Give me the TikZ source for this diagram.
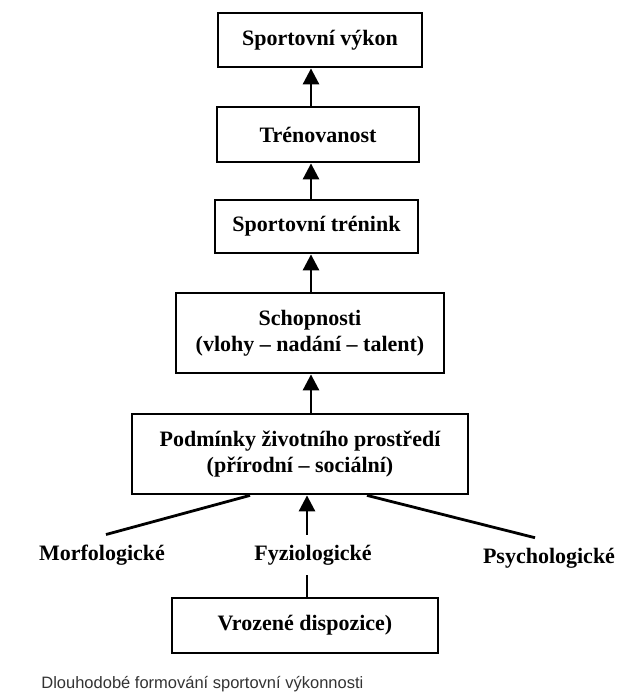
\documentclass[tikz,border=0pt]{standalone}
\usepackage{fontspec}
\setmainfont{Liberation Serif}
\setsansfont{Liberation Sans}
\usetikzlibrary{arrows.meta}

\begin{document}
\begin{tikzpicture}[x=1pt, y=-1pt, line width=2.8pt,
  box/.style={draw, inner sep=0pt, align=center, font=\fontsize{22}{26}\selectfont\bfseries},
  lbl/.style={inner sep=0pt, outer sep=10pt, font=\fontsize{22}{26}\selectfont\bfseries},
  arr/.style={-{Triangle[length=16pt,width=16pt]}}]

\useasboundingbox (0,0) rectangle (618,693);

\node[box, minimum width=204pt, minimum height=54pt] (vykon) at (320,40) {Sportovní výkon};
\node[box, minimum width=202pt, minimum height=55pt] (trenovanost) at (318,134.5) {Trénovanost};
\node[box, minimum width=203pt, minimum height=53pt] (trenink) at (316.5,226.5) {Sportovní trénink};
\node[box, minimum width=268pt, minimum height=80pt] (schopnosti) at (310,333) {Schopnosti\\(vlohy -- nadání -- talent)};
\node[box, minimum width=336pt, minimum height=80pt] (podminky) at (300,454) {Podmínky životního prostředí\\(přírodní -- sociální)};

\node[lbl, anchor=base] (morf) at (102,560) {Morfologické};
\node[lbl, anchor=base] (fyz) at (313,560) {Fyziologické};
\node[lbl, anchor=base] (psych) at (549,563) {Psychologické};

\node[box, minimum width=266pt, minimum height=55pt] (vrozene) at (305,625.5) {Vrozené dispozice)};

\node[anchor=base west, inner sep=0pt, font=\sffamily\fontsize{16.5}{19}\selectfont, text=black!80] (popis) at (40,688) {Dlouhodobé formování sportovní výkonnosti};

% svisla osa sipek
\coordinate (osa) at (311,0);
\coordinate (osa2) at (307,0);

\draw[arr] (trenovanost.north -| osa) -- (vykon.south -| osa);
\draw[arr] (trenink.north -| osa) -- (trenovanost.south -| osa);
\draw[arr] (schopnosti.north -| osa) -- (trenink.south -| osa);
\draw[arr] (podminky.north -| osa) -- (schopnosti.south -| osa);

% vlivy
\draw[arr] (fyz.north -| osa2) -- (podminky.south -| osa2);
\draw ([xshift=-50pt]podminky.south) -- ([xshift=4pt]morf.north);
\draw ([xshift=67pt]podminky.south) -- ([xshift=-14pt]psych.north);
\draw (vrozene.north -| osa2) -- (fyz.south -| osa2);

\end{tikzpicture}
\end{document}
